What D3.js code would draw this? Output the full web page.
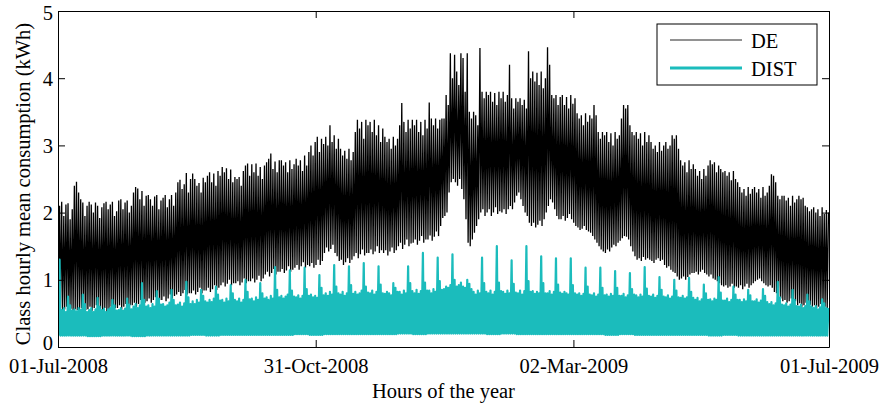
<!DOCTYPE html>
<html>
<head>
<meta charset="utf-8">
<script src="https://cdn.jsdelivr.net/npm/d3@7"></script>
<style>
  body { margin: 0; background: #fff; }
  text { font-family: "Times New Roman", "Liberation Serif", serif; fill: #000; }
</style>
</head>
<body>
<svg id="chart" width="888" height="408"></svg>
<script>
// series names and x tick dates
const seriesNames = ["DE", "DIST"];
const tickDates = ["2008-07-01", "2008-10-31", "2009-03-02", "2009-07-01"];
const yTicks = [0, 1, 2, 3, 4, 5];

// DE daily peak (kWh), one row per week starting 01-Jul-2008
const dePeak = [
  2.10, 2.16, 1.95, 2.12, 2.14, 1.90, 2.05,
  2.40, 2.46, 2.30, 2.20, 2.15, 1.95, 2.10,
  2.16, 2.12, 2.00, 2.15, 2.10, 1.92, 2.08,
  2.14, 2.16, 2.05, 2.12, 2.16, 1.95, 2.02,
  2.18, 2.20, 2.05, 2.15, 2.18, 2.00, 2.10,
  2.30, 2.38, 2.36, 2.20, 2.32, 2.10, 2.25,
  2.26, 2.20, 2.10, 2.24, 2.26, 2.05, 2.18,
  2.22, 2.26, 2.08, 2.20, 2.26, 2.10, 2.30,
  2.45, 2.49, 2.35, 2.42, 2.59, 2.30, 2.50,
  2.58, 2.50, 2.40, 2.44, 2.30, 2.52, 2.45,
  2.55, 2.60, 2.45, 2.58, 2.40, 2.62, 2.55,
  2.68, 2.60, 2.66, 2.50, 2.64, 2.45, 2.53,
  2.50, 2.53, 2.40, 2.62, 2.70, 2.73, 2.55,
  2.72, 2.60, 2.73, 2.55, 2.68, 2.50, 2.70,
  2.75, 2.80, 2.88, 2.65, 2.76, 2.60, 2.78,
  2.78, 2.70, 2.75, 2.60, 2.78, 2.65, 2.72,
  2.80, 2.70, 2.78, 2.62, 2.85, 2.70, 2.90,
  3.00, 2.85, 3.05, 3.13, 2.90, 3.10, 3.02,
  3.13, 3.00, 3.30, 3.05, 3.15, 2.95, 3.10,
  2.95, 2.85, 2.92, 2.80, 2.95, 2.78, 2.90,
  3.20, 3.38, 3.25, 3.35, 3.10, 3.38, 3.30,
  3.35, 3.20, 3.38, 3.15, 3.30, 3.05, 3.25,
  3.13, 3.05, 3.10, 2.95, 3.13, 3.00, 3.10,
  3.30, 3.63, 3.35, 3.20, 3.38, 3.25, 3.38,
  3.30, 3.38, 3.20, 3.35, 3.15, 3.38, 3.25,
  3.64, 3.40, 3.30, 3.40, 3.25, 3.38, 3.40,
  3.40, 3.75, 3.60, 4.37, 4.00, 4.35, 4.10,
  3.90, 4.37, 4.30, 3.80, 4.37, 3.50, 3.40,
  3.50, 3.45, 3.30, 4.45, 3.80, 3.70, 3.80,
  3.75, 3.80, 3.65, 3.78, 3.60, 3.80, 3.70,
  3.80, 3.65, 3.75, 4.20, 3.70, 3.55, 3.70,
  3.65, 3.70, 3.60, 3.68, 3.55, 4.40, 4.00,
  4.10, 3.95, 4.08, 3.90, 4.10, 3.85, 4.00,
  4.46, 4.20, 3.75, 3.70, 3.75, 3.60, 3.72,
  3.75, 3.60, 3.72, 3.55, 3.75, 3.62, 3.70,
  3.48, 3.40, 3.45, 3.30, 3.48, 3.35, 3.45,
  3.40, 3.60, 3.45, 3.20, 3.10, 3.20, 3.15,
  3.20, 3.05, 3.18, 3.00, 3.20, 3.10, 3.15,
  3.40, 3.60, 3.55, 3.60, 3.30, 3.20, 3.15,
  3.20, 3.10, 3.18, 3.00, 3.20, 3.05, 3.15,
  3.05, 2.95, 3.00, 2.90, 3.05, 2.92, 3.00,
  3.05, 2.95, 3.00, 3.15, 3.10, 3.15, 2.95,
  2.78, 2.70, 2.75, 2.60, 2.78, 2.65, 2.72,
  2.65, 2.55, 2.62, 2.50, 2.65, 2.55, 2.70,
  2.78, 2.72, 2.75, 2.60, 2.70, 2.65, 2.60,
  2.62, 2.55, 2.60, 2.48, 2.62, 2.50, 2.45,
  2.38, 2.30, 2.35, 2.25, 2.38, 2.28, 2.35,
  2.38, 2.30, 2.35, 2.22, 2.38, 2.25, 2.30,
  2.40, 2.57, 2.55, 2.45, 2.25, 2.20, 2.25,
  2.25, 2.18, 2.22, 2.10, 2.25, 2.15, 2.20,
  2.25, 2.20, 2.22, 2.10, 2.08, 2.02, 2.05,
  2.08, 2.00, 2.05, 1.95, 2.08, 1.98, 2.04,
  2.00
];

// DE daily trough (kWh)
const deLow = [
  0.55, 0.58, 0.52, 0.56, 0.60, 0.54, 0.57,
  0.52, 0.56, 0.55, 0.50, 0.58, 0.53, 0.55,
  0.56, 0.60, 0.54, 0.58, 0.62, 0.55, 0.57,
  0.54, 0.58, 0.52, 0.56, 0.60, 0.55, 0.58,
  0.58, 0.62, 0.56, 0.60, 0.64, 0.58, 0.62,
  0.62, 0.66, 0.60, 0.64, 0.70, 0.62, 0.66,
  0.68, 0.72, 0.66, 0.70, 0.74, 0.68, 0.70,
  0.70, 0.75, 0.68, 0.72, 0.78, 0.72, 0.76,
  0.78, 0.82, 0.76, 0.80, 0.85, 0.78, 0.80,
  0.80, 0.84, 0.78, 0.82, 0.88, 0.80, 0.84,
  0.84, 0.88, 0.82, 0.86, 0.92, 0.85, 0.88,
  0.92, 0.96, 0.90, 0.94, 1.00, 0.92, 0.95,
  0.95, 0.98, 0.92, 0.96, 1.02, 0.95, 0.98,
  0.98, 1.02, 0.96, 1.00, 1.06, 0.98, 1.02,
  1.08, 1.12, 1.05, 1.10, 1.16, 1.08, 1.12,
  1.12, 1.16, 1.10, 1.14, 1.20, 1.12, 1.15,
  1.18, 1.22, 1.15, 1.20, 1.26, 1.18, 1.22,
  1.20, 1.25, 1.18, 1.22, 1.30, 1.22, 1.28,
  1.40, 1.48, 1.42, 1.46, 1.52, 1.40, 1.35,
  1.28, 1.30, 1.22, 1.26, 1.32, 1.25, 1.30,
  1.35, 1.40, 1.32, 1.38, 1.45, 1.36, 1.40,
  1.40, 1.45, 1.38, 1.42, 1.50, 1.40, 1.44,
  1.40, 1.44, 1.36, 1.42, 1.48, 1.40, 1.44,
  1.50, 1.55, 1.46, 1.52, 1.60, 1.50, 1.54,
  1.55, 1.60, 1.52, 1.58, 1.65, 1.55, 1.60,
  1.60, 1.66, 1.58, 1.64, 1.72, 1.65, 1.80,
  1.92, 1.95, 2.00, 2.30, 2.45, 2.50, 2.45,
  2.40, 2.50, 2.35, 2.20, 1.90, 1.55, 1.50,
  1.60, 1.70, 1.80, 1.90, 2.00, 2.05, 1.95,
  2.00, 2.05, 1.95, 2.00, 2.08, 1.98, 2.02,
  2.00, 2.05, 1.98, 2.05, 2.10, 2.05, 2.15,
  2.25, 2.30, 2.20, 2.10, 2.00, 1.95, 1.85,
  1.80, 1.85, 1.78, 1.82, 1.88, 1.80, 1.90,
  2.00, 2.10, 2.20, 2.15, 2.05, 1.95, 1.90,
  1.90, 1.95, 1.88, 1.92, 1.98, 1.90, 1.85,
  1.80, 1.78, 1.74, 1.76, 1.80, 1.74, 1.72,
  1.70, 1.65, 1.60, 1.55, 1.50, 1.45, 1.42,
  1.40, 1.45, 1.42, 1.48, 1.52, 1.50, 1.55,
  1.58, 1.62, 1.65, 1.64, 1.60, 1.50, 1.42,
  1.35, 1.30, 1.32, 1.28, 1.34, 1.30, 1.32,
  1.30, 1.28, 1.25, 1.30, 1.32, 1.28, 1.30,
  1.22, 1.18, 1.20, 1.15, 1.12, 1.10, 1.05,
  1.00, 1.02, 1.05, 1.00, 1.04, 1.08, 1.10,
  1.10, 1.12, 1.08, 1.12, 1.15, 1.10, 1.08,
  1.05, 1.08, 1.02, 1.00, 0.98, 0.95, 0.92,
  0.90, 0.92, 0.88, 0.90, 0.94, 0.88, 0.90,
  0.88, 0.92, 0.86, 0.90, 0.94, 0.88, 0.92,
  0.95, 0.98, 1.00, 1.02, 0.98, 0.95, 0.92,
  0.90, 0.92, 0.88, 0.82, 0.80, 0.76, 0.72,
  0.68, 0.70, 0.66, 0.68, 0.72, 0.66, 0.68,
  0.62, 0.65, 0.60, 0.62, 0.66, 0.60, 0.63,
  0.60, 0.62, 0.58, 0.60, 0.64, 0.58, 0.60,
  0.58
];

// DIST daily peak (kWh), weekend spikes on the 5th day of each row
const distPeak = [
  1.30, 0.55, 0.58, 0.52, 0.75, 0.62, 0.54,
  0.56, 0.53, 0.58, 0.55, 0.78, 0.64, 0.52,
  0.55, 0.58, 0.52, 0.56, 0.73, 0.60, 0.55,
  0.57, 0.52, 0.56, 0.58, 0.70, 0.62, 0.54,
  0.55, 0.58, 0.54, 0.57, 0.72, 0.63, 0.56,
  0.60, 0.64, 0.58, 0.62, 0.95, 0.70, 0.60,
  0.62, 0.58, 0.64, 0.60, 0.83, 0.72, 0.63,
  0.64, 0.60, 0.62, 0.66, 0.85, 0.70, 0.62,
  0.63, 0.66, 0.60, 0.65, 0.97, 0.74, 0.64,
  0.68, 0.64, 0.70, 0.66, 0.85, 0.76, 0.68,
  0.66, 0.70, 0.67, 0.72, 0.90, 0.78, 0.69,
  0.70, 0.66, 0.72, 0.68, 0.92, 0.80, 0.70,
  0.68, 0.72, 0.66, 0.70, 1.00, 0.82, 0.71,
  0.72, 0.68, 0.74, 0.70, 0.95, 0.80, 0.72,
  0.74, 0.70, 0.76, 0.72, 1.19, 0.85, 0.74,
  0.76, 0.72, 0.75, 0.78, 1.14, 0.84, 0.75,
  0.74, 0.77, 0.72, 0.76, 1.18, 0.86, 0.76,
  0.78, 0.74, 0.76, 0.73, 1.07, 0.88, 0.77,
  0.80, 0.76, 0.82, 0.78, 1.22, 0.90, 0.80,
  0.78, 0.82, 0.76, 0.80, 1.20, 0.92, 0.79,
  0.82, 0.78, 0.80, 0.84, 1.25, 0.90, 0.81,
  0.80, 0.84, 0.78, 0.82, 1.20, 0.93, 0.80,
  0.79, 0.82, 0.80, 0.77, 0.95, 0.88, 0.82,
  0.82, 0.78, 0.84, 0.80, 1.20, 0.95, 0.83,
  0.80, 0.85, 0.79, 0.83, 1.40, 0.96, 0.84,
  0.84, 0.80, 0.86, 0.82, 1.33, 0.98, 0.85,
  0.86, 0.90, 0.88, 0.92, 1.38, 1.00, 0.90,
  0.92, 0.96, 0.90, 0.88, 1.00, 0.94, 0.86,
  0.82, 0.78, 0.84, 0.80, 1.33, 0.95, 0.82,
  0.80, 0.84, 0.78, 0.82, 1.50, 0.96, 0.83,
  0.82, 0.79, 0.84, 0.80, 1.29, 0.94, 0.81,
  0.80, 0.84, 0.78, 0.83, 1.50, 0.98, 0.82,
  0.83, 0.79, 0.82, 0.80, 1.35, 0.95, 0.80,
  0.80, 0.83, 0.78, 0.82, 1.32, 0.93, 0.81,
  0.79, 0.82, 0.80, 0.78, 1.32, 0.92, 0.80,
  0.78, 0.80, 0.76, 0.79, 1.18, 0.90, 0.78,
  0.77, 0.80, 0.75, 0.78, 1.18, 0.88, 0.77,
  0.78, 0.75, 0.79, 0.76, 1.13, 0.88, 0.76,
  0.76, 0.79, 0.74, 0.77, 1.10, 0.86, 0.78,
  0.77, 0.74, 0.78, 0.75, 1.19, 0.87, 0.76,
  0.75, 0.78, 0.73, 0.76, 1.04, 0.85, 0.75,
  0.74, 0.77, 0.72, 0.75, 1.00, 0.84, 0.74,
  0.73, 0.76, 0.72, 0.74, 1.03, 0.82, 0.73,
  0.70, 0.73, 0.68, 0.71, 0.93, 0.80, 0.70,
  0.71, 0.68, 0.72, 0.70, 1.04, 0.81, 0.69,
  0.69, 0.72, 0.67, 0.70, 0.90, 0.78, 0.70,
  0.70, 0.67, 0.71, 0.68, 0.85, 0.77, 0.68,
  0.68, 0.71, 0.66, 0.69, 0.86, 0.76, 0.67,
  0.64, 0.67, 0.62, 0.65, 0.97, 0.74, 0.63,
  0.62, 0.65, 0.60, 0.63, 0.85, 0.70, 0.61,
  0.60, 0.63, 0.58, 0.61, 0.78, 0.68, 0.60,
  0.58, 0.61, 0.56, 0.59, 0.71, 0.65, 0.58,
  0.58
];

// DIST night base level per week (kWh)
const distBase = [
  0.17, 0.17, 0.16, 0.17, 0.17, 0.16, 0.17, 0.17, 0.17, 0.18,
  0.17, 0.18, 0.18, 0.18, 0.18, 0.18, 0.19, 0.18, 0.19, 0.19,
  0.19, 0.19, 0.19, 0.20, 0.19, 0.20, 0.20, 0.20, 0.20, 0.19,
  0.20, 0.19, 0.19, 0.19, 0.19, 0.19, 0.19, 0.18, 0.19, 0.18,
  0.18, 0.18, 0.18, 0.18, 0.17, 0.18, 0.17, 0.17, 0.17, 0.17,
  0.17, 0.17, 0.17
];

const colors = { DE: "#000000", DIST: "#1bbcbc" };
const fontSize = "20.5px";

const svg = d3.select("#chart");
const margin = { top: 11, right: 59, bottom: 61, left: 58 };
const W = 888 - margin.left - margin.right;
const H = 408 - margin.top - margin.bottom;
const g = svg.append("g").attr("transform", `translate(${margin.left},${margin.top})`);

const parse = d3.timeParse("%Y-%m-%d");
const start = parse(tickDates[0]);
const end = parse(tickDates[tickDates.length - 1]);
const dayMs = 864e5;
const at = (d) => new Date(start.getTime() + d * dayMs);

const x = d3.scaleTime().domain([start, end]).range([0, W]);
const y = d3.scaleLinear().domain([0, 5]).range([H, 0]);

svg.append("defs").append("clipPath").attr("id", "plot-clip")
  .append("rect").attr("width", W).attr("height", H);

// each day: night trough then evening peak
function dailyPoints(peaks, lows) {
  const pts = [];
  peaks.forEach((p, d) => {
    pts.push([at(d + 0.15), lows(d)]);
    pts.push([at(d + 0.75), p]);
  });
  return pts;
}

const deData = dailyPoints(dePeak, d => deLow[d]);
const distData = dailyPoints(distPeak, d => distBase[Math.floor(d / 7)]);

const line = d3.line().x(d => x(d[0])).y(d => y(d[1]));

const plot = g.append("g").attr("clip-path", "url(#plot-clip)");
plot.append("path")
  .datum(deData)
  .attr("d", line)
  .attr("fill", "none")
  .attr("stroke", colors.DE)
  .attr("stroke-width", 1.3);

plot.append("path")
  .datum(distData)
  .attr("d", line)
  .attr("fill", "none")
  .attr("stroke", colors.DIST)
  .attr("stroke-width", 2.2)
  .attr("stroke-linejoin", "round");

// axes with inward ticks on all four sides
const tickVals = tickDates.map(parse);
const fmt = d3.timeFormat("%d-%b-%Y");

const xBottom = g.append("g").attr("transform", `translate(0,${H})`)
  .call(d3.axisBottom(x).tickValues(tickVals).tickFormat(fmt).tickSize(-7).tickSizeOuter(0).tickPadding(11));
const xTop = g.append("g")
  .call(d3.axisTop(x).tickValues(tickVals).tickFormat("").tickSize(-7).tickSizeOuter(0));
const yLeft = g.append("g")
  .call(d3.axisLeft(y).tickValues(yTicks).tickFormat(d3.format("d")).tickSize(-7).tickSizeOuter(0).tickPadding(5));
const yRight = g.append("g").attr("transform", `translate(${W},0)`)
  .call(d3.axisRight(y).tickValues(yTicks).tickFormat("").tickSize(-7).tickSizeOuter(0));

// keep the end labels clear of the x labels and the top edge
yLeft.selectAll(".tick text").attr("dy", d => d === 0 ? "0.13em" : d === 5 ? "0.42em" : "0.34em");

[xBottom, xTop, yLeft, yRight].forEach(a => {
  a.selectAll("path.domain").attr("stroke", "#000").attr("stroke-width", 1);
  a.selectAll(".tick line").attr("stroke", "#000");
  a.selectAll("text")
    .style("font-family", '"Times New Roman", "Liberation Serif", serif')
    .style("font-size", fontSize)
    .attr("fill", "#000");
});

// axis titles
svg.append("text")
  .attr("x", margin.left + W / 2)
  .attr("y", 398)
  .attr("text-anchor", "middle")
  .style("font-size", fontSize)
  .text("Hours of the year");

svg.append("text")
  .attr("transform", `translate(30,${margin.top + H / 2 + 5}) rotate(-90)`)
  .attr("text-anchor", "middle")
  .style("font-size", fontSize)
  .text("Class hourly mean consumption (kWh)");

// legend
const legend = svg.append("g").attr("transform", "translate(657,24)");
legend.append("rect")
  .attr("width", 160).attr("height", 61)
  .attr("fill", "#fff").attr("stroke", "#000").attr("stroke-width", 1);

const legendStroke = { DE: "#6e6e6e", DIST: colors.DIST };
const legendWidth = { DE: 1.5, DIST: 3 };
seriesNames.forEach((name, i) => {
  const ly = 16 + i * 28;
  legend.append("line")
    .attr("x1", 13).attr("x2", 85)
    .attr("y1", ly).attr("y2", ly)
    .attr("stroke", legendStroke[name])
    .attr("stroke-width", legendWidth[name]);
  legend.append("text")
    .attr("x", 94).attr("y", ly + 8)
    .style("font-size", fontSize)
    .text(name);
});
</script>
</body>
</html>
